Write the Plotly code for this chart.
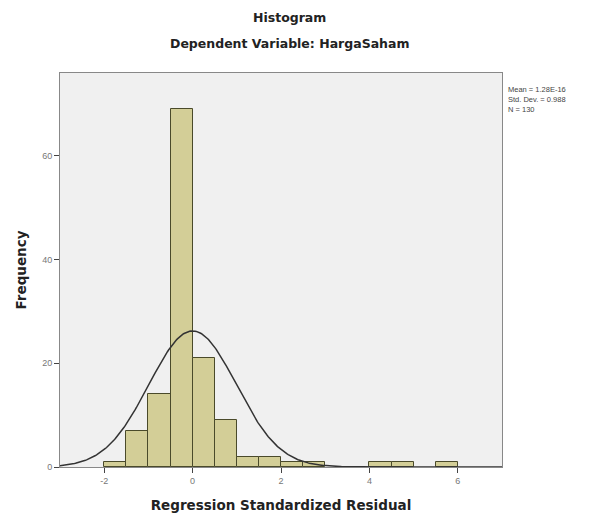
import numpy as np
import plotly.graph_objects as go

# Histogram data (bin left edges, width 0.5)
bin_starts = [-2.0, -1.5, -1.0, -0.5, 0.0, 0.5, 1.0, 1.5, 2.0, 2.5, 4.0, 4.5, 5.5]
counts = [1, 7, 14, 69, 21, 9, 2, 2, 1, 1, 1, 1, 1]
bin_width = 0.5

# Summary statistics
mean_val = 1.28e-16
std_val = 0.988
n_val = 130

x_ticks = [-2, 0, 2, 4, 6]
y_ticks = [0, 20, 40, 60]

FONT = "Liberation Sans, Arial, sans-serif"
TFONT = "DejaVu Sans, Verdana, sans-serif"

fig = go.Figure()
fig.add_trace(go.Bar(
    x=[b + bin_width / 2 for b in bin_starts],
    y=counts,
    width=bin_width,
    marker=dict(color="#D3CE97", line=dict(color="#4A4A2A", width=1)),
    hoverinfo="x+y",
    showlegend=False,
))

# Normal curve scaled to histogram
xs = np.linspace(-3, 7, 400)
ys = n_val * bin_width / (std_val * np.sqrt(2 * np.pi)) * np.exp(-0.5 * ((xs - mean_val) / std_val) ** 2)
fig.add_trace(go.Scatter(
    x=xs, y=ys, mode="lines",
    line=dict(color="#333333", width=1.5),
    showlegend=False, hoverinfo="skip",
))

fig.update_layout(
    width=591, height=509,
    margin=dict(l=52, r=97, t=65, b=50, autoexpand=False),
    paper_bgcolor="white",
    plot_bgcolor="#F0F0F0",
    bargap=0,
    font=dict(family=FONT, color="#222222"),
    annotations=[
        dict(text="<b>Histogram</b>", x=0.52, y=1.0, xref="paper", yref="paper",
             yanchor="middle", yshift=56, showarrow=False,
             font=dict(size=12.5, family=TFONT, color="#222")),
        dict(text="<b>Dependent Variable: HargaSaham</b>", x=0.52, y=1.0, xref="paper", yref="paper",
             yanchor="middle", yshift=30, showarrow=False,
             font=dict(size=12.5, family=TFONT, color="#222")),
        dict(text="Mean = 1.28E-16<br>Std. Dev. = 0.988<br>N = 130", x=1.0, y=1.0,
             xref="paper", yref="paper", xanchor="left", yanchor="top", xshift=4, yshift=-10,
             align="left", showarrow=False, font=dict(size=7.5, family=FONT, color="#444")),
    ],
    xaxis=dict(
        range=[-3, 7], tickvals=x_ticks, ticktext=[str(v) for v in x_ticks],
        showgrid=False, zeroline=False, ticks="outside", ticklen=5, tickcolor="#444",
        tickfont=dict(size=9, color="#777", family=FONT),
        showline=True, linecolor="#888", linewidth=1, mirror=True,
        automargin=False,
        title=dict(text="<b>Regression Standardized Residual</b>", standoff=15,
                   font=dict(size=13.5, family=TFONT, color="#222")),
    ),
    yaxis=dict(
        range=[0, 76], tickvals=y_ticks, ticktext=[str(v) for v in y_ticks],
        showgrid=False, zeroline=False, ticks="outside", ticklen=5, tickcolor="#444",
        tickfont=dict(size=9, color="#777", family=FONT),
        showline=True, linecolor="#888", linewidth=1, mirror=True,
        automargin=False,
        title=dict(text="<b>Frequency</b>", standoff=12,
                   font=dict(size=13.5, family=TFONT, color="#222")),
    ),
)

fig.write_html("out.html")
